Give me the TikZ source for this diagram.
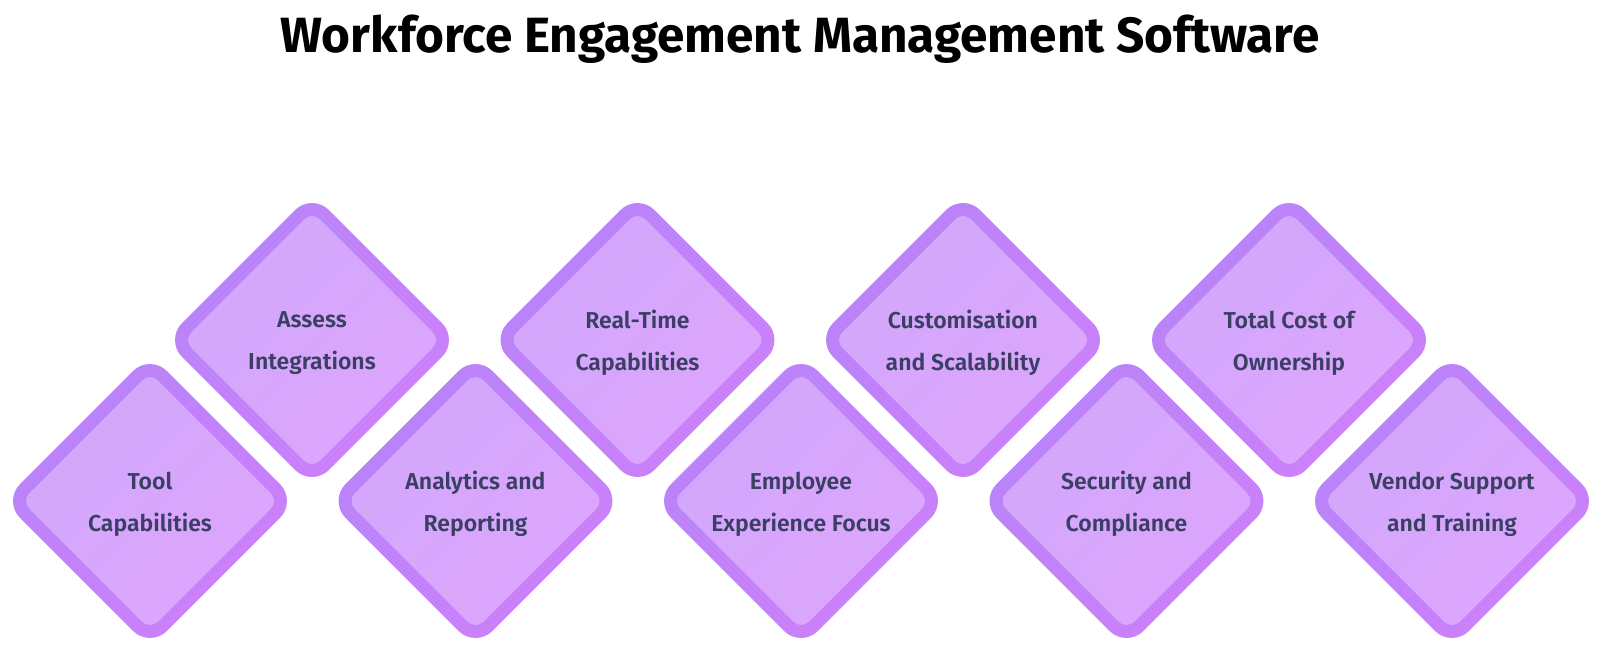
\documentclass[tikz,border=0pt]{standalone}
\usepackage{fontspec}
\setmainfont{Fira Sans}
\newfontfamily\semib{Fira Sans SemiBold}
\definecolor{bordA}{HTML}{B884F9}
\definecolor{bordB}{HTML}{CD80FA}
\definecolor{fillA}{HTML}{D1A7FB}
\definecolor{fillB}{HTML}{DDA6FD}
\definecolor{txtc}{HTML}{3A3F63}
\tikzset{
  diaborder/.style={top color=bordA, bottom color=bordB, shading angle=45},
  diafill/.style={top color=fillA, bottom color=fillB, shading angle=45},
  diatext/.style={align=center, text=txtc, font=\semib\fontsize{23}{42}\selectfont, inner sep=0pt},
  titletext/.style={font=\bfseries\fontsize{49.5}{52}\selectfont, text=black, anchor=base, inner sep=0pt}
}
\newcommand\diamondbox[4]{%
  \path[diaborder, rounded corners=24pt] (#1-146.9,#2) -- (#1,#2-146.9) -- (#1+146.9,#2) -- (#1,#2+146.9) -- cycle;
  \path[diafill, rounded corners=11pt] (#1-128.5,#2) -- (#1,#2-128.5) -- (#1+128.5,#2) -- (#1,#2+128.5) -- cycle;
  \node[diatext] (#3) at (#1,#2+3) {#4};
}
\begin{document}
\begin{tikzpicture}[x=1pt,y=-1pt]
\useasboundingbox (0,0) rectangle (1600,650);
\fill[white] (0,0) rectangle (1600,650);
\node[titletext] (title) at (800,53) {Workforce Engagement Management Software};
\diamondbox{150}{501}{tool}{Tool\\Capabilities}
\diamondbox{312}{340}{assess}{Assess\\Integrations}
\diamondbox{475.5}{501}{analytics}{Analytics and\\Reporting}
\diamondbox{637.5}{340}{realtime}{Real-Time\\Capabilities}
\diamondbox{801}{501}{employee}{Employee\\Experience Focus}
\diamondbox{963}{340}{custom}{Customisation\\and Scalability}
\diamondbox{1126.5}{501}{security}{Security and\\Compliance}
\diamondbox{1289}{340}{cost}{Total Cost of\\Ownership}
\diamondbox{1452}{501}{vendor}{Vendor Support\\and Training}
\end{tikzpicture}
\end{document}
